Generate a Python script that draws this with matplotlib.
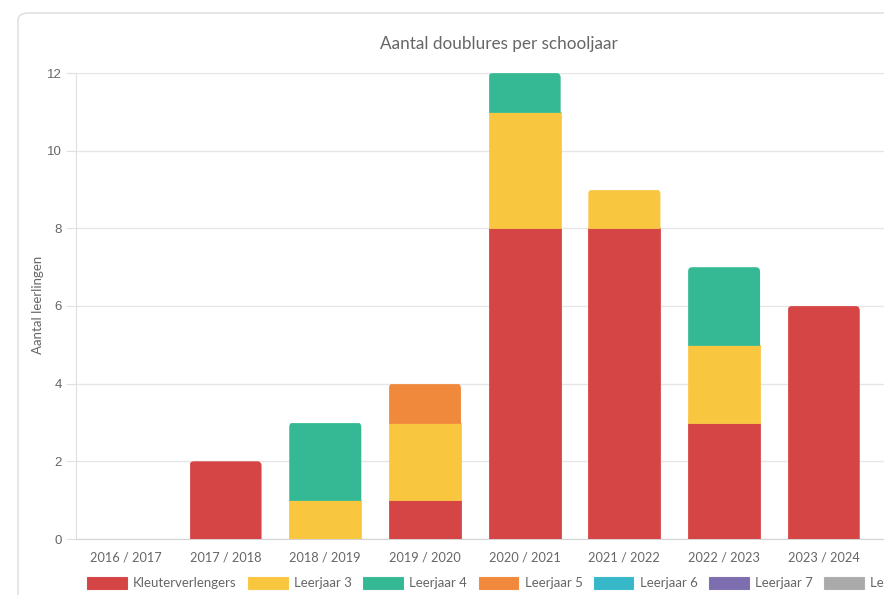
import matplotlib
matplotlib.use("Agg")
import matplotlib.pyplot as plt
from matplotlib.patches import FancyBboxPatch, Patch
import numpy as np

plt.rcParams['font.family'] = ['Lato', 'DejaVu Sans']

categories = ["2016 / 2017", "2017 / 2018", "2018 / 2019", "2019 / 2020",
              "2020 / 2021", "2021 / 2022", "2022 / 2023", "2023 / 2024"]
series_names = ["Kleuterverlengers", "Leerjaar 3", "Leerjaar 4", "Leerjaar 5",
                "Leerjaar 6", "Leerjaar 7", "Leerjaar 8"]
kleuter = [0, 2, 0, 1, 8, 8, 3, 6]
leerjaar3 = [0, 0, 1, 2, 3, 1, 2, 0]
leerjaar4 = [0, 0, 2, 0, 1, 0, 2, 0]
leerjaar5 = [0, 0, 0, 1, 0, 0, 0, 0]
leerjaar6 = [0, 0, 0, 0, 0, 0, 0, 0]
leerjaar7 = [0, 0, 0, 0, 0, 0, 0, 0]
leerjaar8 = [0, 0, 0, 0, 0, 0, 0, 0]
yticks = [0, 2, 4, 6, 8, 10, 12]

series = [kleuter, leerjaar3, leerjaar4, leerjaar5, leerjaar6, leerjaar7, leerjaar8]
colors = ["#d54546", "#f9c63f", "#35b994", "#f0893c", "#36b8c9", "#7d6eaf", "#aaaaaa"]
edge = ["#d84a4a", "#fac84a", "#3dbc98", "#f28d42", "#3dbbcc", "#8274b2", "#b0b0b0"]

W, H = 884, 595
fig = plt.figure(figsize=(W / 100, H / 100), dpi=100)
fig.patch.set_facecolor("white")

# card border
card = FancyBboxPatch((18 / W, -0.1), 1.2, (H - 13) / H + 0.1,
                      boxstyle="round,pad=0,rounding_size=0.012",
                      transform=fig.transFigure, facecolor="white",
                      edgecolor="#dcdcdc", linewidth=1.0, zorder=-10)
fig.patches.append(card)

left, right = 76 / W, 1.0
bottom, top = 1 - 539 / H, 1 - 73 / H
ax = fig.add_axes([left, bottom, right - left, top - bottom])
ax.set_facecolor("none")
ax.set_zorder(1)

x = np.arange(len(categories))
band = 99.7
ax.set_xlim(-0.5, -0.5 + (W - 76) / band)
ax.set_ylim(0, 12)
bw = 72 / band
px_x = band                      # pixels per x unit
px_y = (539 - 73) / 12.0         # pixels per y unit
radius_px = 4.5

base = np.zeros(len(categories))
totals = np.sum(np.array(series, dtype=float), axis=0)
for vals, c, e, name in zip(series, colors, edge, series_names):
    v = np.array(vals, dtype=float)
    mask = v > 0
    if mask.any():
        bars = ax.bar(x[mask], v[mask], bw, bottom=base[mask], color=c, edgecolor=e,
                      linewidth=0.6, label=name, zorder=3)
        for rect, xi, b0, h in zip(bars, x[mask], base[mask], v[mask]):
            if abs(b0 + h - totals[xi]) < 1e-9:
                clip = FancyBboxPatch((xi - bw / 2, b0 - 1), bw, h + 1,
                                      boxstyle=f"round,pad=0,rounding_size={radius_px / px_x}",
                                      mutation_aspect=px_x / px_y,
                                      transform=ax.transData)
                rect.set_clip_path(clip)
    base += v

ax.set_yticks(yticks)
ax.set_xticks(x)
ax.set_xticklabels(categories)
ax.grid(axis="y", color="#e6e6e6", linewidth=1, zorder=0)
for s in ["top", "right"]:
    ax.spines[s].set_visible(False)
ax.spines["left"].set_color("#e0e0e0")
ax.spines["bottom"].set_color("#d4d4d4")
ax.tick_params(axis="y", colors="#e0e0e0", labelcolor="#666666", labelsize=9.5,
               length=7, pad=3)
ax.tick_params(axis="x", length=0, labelcolor="#666666", labelsize=9.2, pad=9)
for lbl in ax.get_yticklabels():
    lbl.set_family(["Liberation Sans", "DejaVu Sans"])

fig.text(38 / W, 1 - 305 / H, "Aantal leerlingen", rotation=90, ha="center",
         va="center", color="#666666", fontsize=9.5)
fig.text(499 / W, 1 - 44 / H, "Aantal doublures per schooljaar", ha="center",
         va="center", color="#666666", fontsize=12.3)

handles = [Patch(facecolor=c, edgecolor=e, linewidth=0.8) for c, e in zip(colors, edge)]
fig.legend(handles, series_names, loc="center left",
           bbox_to_anchor=(87 / W, 1 - 583 / H), ncol=7, frameon=False,
           fontsize=9.5, labelcolor="#666666", handlelength=3.0, handleheight=1.1,
           handletextpad=0.5, columnspacing=0.85, borderaxespad=0, borderpad=0)

fig.savefig("out.png", dpi=100)
